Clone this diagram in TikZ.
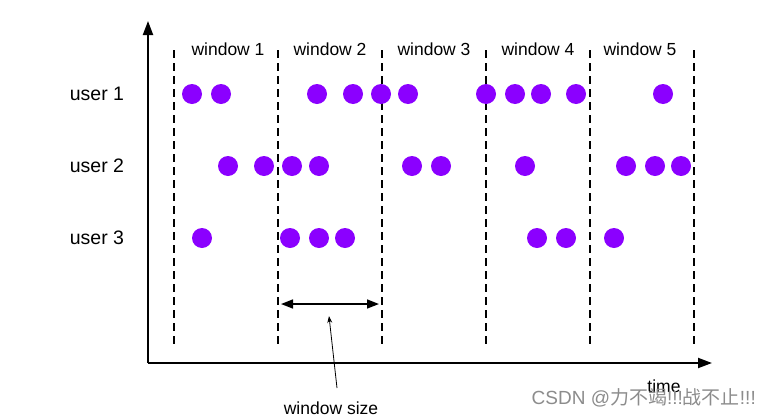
\documentclass[tikz,border=0pt]{standalone}
\usepackage{fontspec}
\setmainfont{Liberation Sans}
\newfontfamily\cjkfont{Noto Sans CJK SC}
\usetikzlibrary{arrows.meta}
\definecolor{dotpurple}{HTML}{8B00FF}
\tikzset{
  dotnode/.style={circle, fill=dotpurple, minimum size=20pt, inner sep=0pt, draw=none},
  winline/.style={line width=2pt, dash pattern=on 8pt off 5pt},
  axisline/.style={line width=2pt, -{Triangle[length=14pt,width=10pt]}},
  lbl/.style={font=\fontsize{19.5pt}{22pt}\selectfont, inner sep=0pt},
  wlbl/.style={font=\fontsize{17.5pt}{20pt}\selectfont, inner sep=0pt},
}
\begin{document}
\begin{tikzpicture}[x=1pt,y=-1pt]
\useasboundingbox[fill=white] (0,0) rectangle (769,418);
% axes
\coordinate (origin) at (148,363);
\coordinate (ytip) at (148,21);
\coordinate (xtip) at (712,363);
\draw[axisline] (origin) -- (ytip);
\draw[axisline] (origin) -- (xtip);
% window boundaries
\foreach \i/\x in {0/174,1/278,2/382,3/486,4/590,5/694}{
  \coordinate (top\i) at (\x,50);
  \coordinate (bot\i) at (\x,346);
  \draw[winline] (top\i) -- (bot\i);
}
% window labels
\foreach \i/\x in {1/228,2/330,3/434,4/538,5/640}{
  \node[wlbl] (w\i) at (\x,49) {window \i};
}
% user labels
\node[lbl] (u1) at (97,94) {user 1};
\node[lbl] (u2) at (97,166) {user 2};
\node[lbl] (u3) at (97,238) {user 3};
% dots row 1
\foreach \x [count=\k] in {192,221,317,353,381,408,486,515,541,576,663}{
  \node[dotnode] (a\k) at (\x,94) {};
}
% dots row 2
\foreach \x [count=\k] in {228,264,292,319,412,441,525,626,655,681}{
  \node[dotnode] (b\k) at (\x,166) {};
}
% dots row 3
\foreach \x [count=\k] in {202,290,319,345,537,566,614}{
  \node[dotnode] (c\k) at (\x,238) {};
}
% window size arrow
\coordinate (ws1) at (281,304);
\coordinate (ws2) at (379,304);
\draw[line width=1.6pt, {Triangle[length=12pt,width=9pt]}-{Triangle[length=12pt,width=9pt]}] (ws1) -- (ws2);
\node[wlbl] (wsize) at (331,408) {window size};
\coordinate (ptip) at (329,316);
\coordinate (pbase) at (337,388);
\draw[line width=0.8pt, -{Stealth[length=7pt,width=5pt]}] (pbase) -- (ptip);
% time label
\node[wlbl] (time) at (664,386) {time};
% watermark
\node[font=\fontsize{19pt}{22pt}\selectfont, text=black!45, inner sep=0pt, anchor=east] (wm) at (756,398) {CSDN @\cjkfont 力不竭\rmfamily!!!\cjkfont 战不止\rmfamily!!!};
\end{tikzpicture}
\end{document}
